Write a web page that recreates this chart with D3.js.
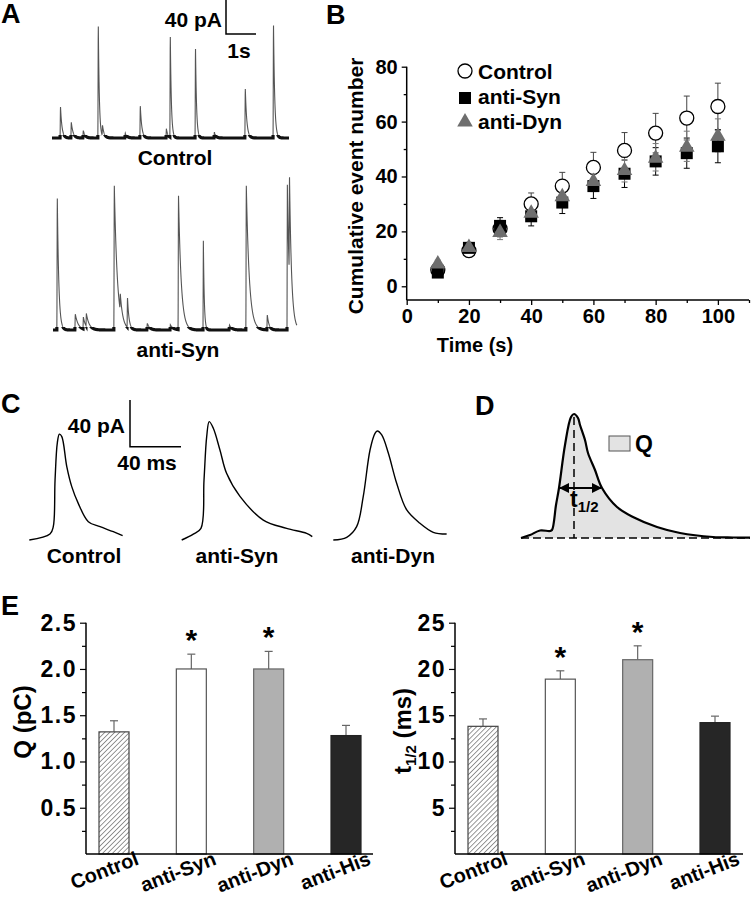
<!DOCTYPE html>
<html><head><meta charset="utf-8">
<script src="https://cdn.jsdelivr.net/npm/d3@7"></script>
<style>body{margin:0;background:#fff}svg{display:block}text{font-family:'Liberation Sans',Arial,Helvetica,sans-serif;font-weight:bold}</style>
</head><body><svg id="fig" width="751" height="900"></svg>
<script>
// ---------- DATA ----------
// Panel A: spontaneous events [time s, amplitude pA, decay tau s]
const aControlEvents = [[0.27,38,0.05],[0.63,19,0.06],[1.03,9,0.06],[1.53,139,0.035],[1.67,13,0.06],[2.43,6,0.06],[2.93,39,0.05],[3.8,11,0.05],[3.93,125,0.035],[4.77,111,0.035],[5.4,7,0.05],[6.43,60,0.05],[7.37,139,0.04]];
const aSynEvents = [[0.13,161,0.05],[0.73,19,0.1],[1.0,14,0.08],[1.1,15,0.1],[2.03,173,0.1],[2.23,20,0.08],[2.47,36,0.05],[3.13,8,0.08],[3.9,6,0.1],[4.17,161,0.09],[5.0,105,0.03],[5.87,6,0.08],[6.43,173,0.1],[7.13,18,0.06],[7.8,171,0.07],[7.87,122,0.07]];
const aControlDuration = 7.9, aSynDuration = 8.13;

// Panel B: cumulative event number
const bTimes = [10,20,30,40,50,60,70,80,90,100];
const bControl = [6,13,21,30,36.5,43.3,49.5,55.8,61.3,65.5];
const bControlErr = [1,1.5,3,4,5,5.5,6.5,7.2,8,8.5];
const bSyn = [5,14,22,25.5,30.5,36.5,41,45.5,48.5,51];
const bSynErr = [1,1.5,3,3.5,4,4.5,5,5,5.5,6];
const bDyn = [8.5,14.5,20,27,33,38.5,42.5,47,51,55];
const bDynErr = [1,1.5,3,3,3.5,4,4.5,5,5.5,6];
const bSeries = ["Control","anti-Syn","anti-Dyn"];

// Panel C: averaged events [ms, pA]
const cControl = [[0,0],[16.2,5.1],[18.8,11.4],[20.2,51.4],[22,83.4],[23.6,90.7],[25.5,88.6],[29.4,62.9],[33.3,45.7],[38.4,31.4],[46.3,15.7],[55.5,11.4],[65.9,7.1],[73.2,3.7]];
const cSyn = [[0,0],[9.1,5.1],[15.1,10],[17.5,51.4],[19.6,88.6],[21.6,101.4],[24.8,95.7],[30,77.1],[35.2,57.1],[45.7,37.4],[64,17.1],[82.3,10],[98,5.7],[102.4,2.9]];
const cDyn = [[0,0],[10.5,2.3],[18.3,11.4],[23.5,37.4],[28.8,77.1],[32.7,91.4],[34.5,93.4],[38,90],[43.2,74.3],[49.7,48.6],[57.6,25.7],[68,14.3],[78.4,6.6],[88.9,5.1]];
const cLabels = ["Control","anti-Syn","anti-Dyn"];

// Panel D: schematic event (arbitrary units)
const dEvent = [[0,0],[9,3],[19,7.5],[29,7],[31,8],[35,33],[38,50],[44,93],[50,121],[53,124],[57,120],[59,113],[64,98],[67,85],[74,68],[81,50],[96,31],[112,21],[136,11],[159,5],[192,1],[212,0.5],[229,0.3]];
const dPeakT = 53, dHalfStart = 38, dHalfEnd = 81, dHalfAmp = 50;

// Panel E
const eCats = ["Control","anti-Syn","anti-Dyn","anti-His"];
const eQ = [1.32,2.0,2.0,1.28];
const eQErr = [0.12,0.16,0.19,0.11];
const eT = [13.8,18.9,21.0,14.2];
const eTErr = [0.8,0.9,1.5,0.7];
const eSig = [false,true,true,false];
const eQTicks = [0.5,1.0,1.5,2.0,2.5];
const eTTicks = [5,10,15,20,25];

// ---------- DRAW ----------
const svg = d3.select("#fig");
function text(x,y,s,size,anchor){return svg.append("text").attr("x",x).attr("y",y).attr("font-size",size).attr("text-anchor",anchor||"start").text(s);}

// panel letters
[["A",1,23],["B",326,24],["C",1,413],["D",475,415],["E",1,615]].forEach(d=>text(d[1],d[2],d[0],27));

// ----- Panel A -----
function traceData(events,dur){
  const pts=[];const rise=0.012;
  for(let t=0;t<=dur+1e-9;t+=0.004){
    let v=0;
    events.forEach(([t0,a,tau])=>{const dt=t-t0; if(dt<0)return; v+= dt<rise? a*dt/rise : a*Math.exp(-(dt-rise)/tau);});
    pts.push([t,v]);
  }
  return pts;
}
function drawTrace(events,dur,x0,base,id){
  const x=d3.scaleLinear().domain([0,1]).range([x0,x0+30]);
  const y=d3.scaleLinear().domain([0,40]).range([base,base-34]);
  const line=d3.line().x(d=>x(d[0])).y(d=>y(d[1]));
  const data=traceData(events,dur);
  svg.append("path").attr("d",line(data)).attr("fill","none").attr("stroke","#555").attr("stroke-width",1.1);
  svg.append("clipPath").attr("id",id).append("rect").attr("x",x0-5).attr("y",base-3).attr("width",300).attr("height",6);
  svg.append("path").attr("d",line(data)).attr("fill","none").attr("stroke","#111").attr("stroke-width",3.2).attr("clip-path",`url(#${id})`);
}
drawTrace(aControlEvents,aControlDuration,52,138,"clipA1");
drawTrace(aSynEvents,aSynDuration,53,330,"clipA2");
text(175,165,"Control",21,"middle");
text(178,357,"anti-Syn",21,"middle");
// scale bar A
svg.append("path").attr("d","M226,0V34H256").attr("fill","none").attr("stroke","#000").attr("stroke-width",1.5);
text(222,27,"40 pA",21,"end");
text(239,58,"1s",21,"middle");

// ----- Panel B -----
const bx=d3.scaleLinear().domain([0,110]).range([406.7,749]);
const by=d3.scaleLinear().domain([-5,80]).range([300,66.7]);
const gB=svg.append("g");
gB.append("g").attr("transform","translate(0,300)").call(d3.axisBottom(bx).tickValues([10,30,50,70,90,110]).tickSize(3).tickFormat(""));
gB.append("g").attr("transform","translate(0,300)").call(d3.axisBottom(bx).tickValues([0,20,40,60,80,100]).tickSize(5).tickPadding(4));
gB.append("g").attr("transform","translate(406.7,0)").call(d3.axisLeft(by).tickValues([10,30,50,70]).tickSize(3).tickFormat(""));
gB.append("g").attr("transform","translate(406.7,0)").call(d3.axisLeft(by).tickValues([0,20,40,60,80]).tickSize(5).tickPadding(4));
gB.selectAll("path.domain").remove();
gB.selectAll(".tick line").attr("stroke-width",1.3);
gB.selectAll(".tick text").attr("font-size",20).attr("font-family","'Liberation Sans',Arial,sans-serif").attr("font-weight","bold").attr("fill","#000");
gB.append("line").attr("x1",406.7).attr("x2",749).attr("y1",300).attr("y2",300).attr("stroke","#000").attr("stroke-width",1.5);
gB.append("line").attr("x1",406.7).attr("x2",406.7).attr("y1",by(80)).attr("y2",300).attr("stroke","#000").attr("stroke-width",1.5);
const bAll=[{v:bControl,e:bControlErr,c:"#444"},{v:bSyn,e:bSynErr,c:"#000"},{v:bDyn,e:bDynErr,c:"#777"}];
bAll.forEach(s=>{
  bTimes.forEach((t,i)=>{
    const cx=bx(t);
    gB.append("line").attr("x1",cx).attr("x2",cx).attr("y1",by(s.v[i]-s.e[i])).attr("y2",by(s.v[i]+s.e[i])).attr("stroke",s.c).attr("stroke-width",1);
    [s.v[i]-s.e[i],s.v[i]+s.e[i]].forEach(v=>gB.append("line").attr("x1",cx-3).attr("x2",cx+3).attr("y1",by(v)).attr("y2",by(v)).attr("stroke",s.c).attr("stroke-width",1));
  });
});
gB.selectAll(null).data(bTimes).enter().append("circle").attr("cx",d=>bx(d)).attr("cy",(d,i)=>by(bControl[i])).attr("r",7).attr("fill","#fff").attr("stroke","#000").attr("stroke-width",1.3);
gB.selectAll(null).data(bTimes).enter().append("rect").attr("x",d=>bx(d)-6).attr("y",(d,i)=>by(bSyn[i])-6).attr("width",12).attr("height",12).attr("fill","#000");
const tri=d3.symbol().type(d3.symbolTriangle).size(105);
gB.selectAll(null).data(bTimes).enter().append("path").attr("d",tri).attr("transform",(d,i)=>`translate(${bx(d)},${by(bDyn[i])+1})`).attr("fill","#6e6e6e");
// legend
gB.append("circle").attr("cx",465).attr("cy",71).attr("r",7).attr("fill","#fff").attr("stroke","#000").attr("stroke-width",1.3);
gB.append("rect").attr("x",459).attr("y",92).attr("width",12).attr("height",12).attr("fill","#000");
gB.append("path").attr("d",tri).attr("transform","translate(465,122)").attr("fill","#6e6e6e");
[[79,bSeries[0]],[104,bSeries[1]],[129,bSeries[2]]].forEach(d=>text(478,d[0],d[1],21));
text(475,352,"Time (s)",20,"middle");
svg.append("text").attr("transform","translate(363,186) rotate(-90)").attr("text-anchor","middle").attr("font-size",21).text("Cumulative event number");

// ----- Panel C -----
const cy=d3.scaleLinear().domain([0,40]).range([540,493.3]);
[[cControl,29.3],[cSyn,181.7],[cDyn,333.3]].forEach(([data,x0])=>{
  const cx=d3.scaleLinear().domain([0,40]).range([x0,x0+51]);
  svg.append("path").attr("d",d3.line().x(d=>cx(d[0])).y(d=>cy(d[1])).curve(d3.curveCatmullRom)(data)).attr("fill","none").attr("stroke","#000").attr("stroke-width",1.4);
});
[[84,cLabels[0]],[237,cLabels[1]],[393,cLabels[2]]].forEach(d=>text(d[0],563,d[1],21,"middle"));
svg.append("path").attr("d","M130,400V446.7H181").attr("fill","none").attr("stroke","#000").attr("stroke-width",1.5);
text(125,433,"40 pA",21,"end");
text(147,470,"40 ms",21,"middle");

// ----- Panel D -----
const dx=d3.scaleLinear().domain([0,229]).range([521,750]);
const dy=d3.scaleLinear().domain([0,123]).range([538,415]);
svg.append("path").attr("d",d3.area().x(d=>dx(d[0])).y0(dy(0)).y1(d=>dy(d[1])).curve(d3.curveCatmullRom)(dEvent)).attr("fill","#e3e3e3");
svg.append("line").attr("x1",dx(0)).attr("x2",dx(229)).attr("y1",dy(0)).attr("y2",dy(0)).attr("stroke","#000").attr("stroke-width",1.6).attr("stroke-dasharray","8,4");
svg.append("path").attr("d",d3.line().x(d=>dx(d[0])).y(d=>dy(d[1])).curve(d3.curveCatmullRom)(dEvent)).attr("fill","none").attr("stroke","#000").attr("stroke-width",2.2);
svg.append("line").attr("x1",dx(dPeakT)).attr("x2",dx(dPeakT)).attr("y1",dy(121)).attr("y2",dy(0)).attr("stroke","#000").attr("stroke-width",1.5).attr("stroke-dasharray","8,5");
const defs=svg.append("defs");
defs.append("marker").attr("id","arr").attr("viewBox","0 0 10 10").attr("refX",9).attr("refY",5).attr("markerWidth",5).attr("markerHeight",5).attr("orient","auto-start-reverse").append("path").attr("d","M0,0L10,5L0,10z").attr("fill","#000");
svg.append("line").attr("x1",dx(dHalfStart)+1).attr("x2",dx(dHalfEnd)-1).attr("y1",dy(dHalfAmp)).attr("y2",dy(dHalfAmp)).attr("stroke","#000").attr("stroke-width",2).attr("marker-start","url(#arr)").attr("marker-end","url(#arr)");
const tl=svg.append("text").attr("x",570).attr("y",507).attr("font-size",23);
tl.append("tspan").text("t");
tl.append("tspan").attr("font-size",15).attr("dy",5).text("1/2");
svg.append("rect").attr("x",609).attr("y",436).attr("width",21).attr("height",15).attr("fill","#e3e3e3").attr("stroke","#555").attr("stroke-width",1);
text(635,452,"Q",23);

// ----- Panel E -----
const hatch=defs.append("pattern").attr("id","hatch").attr("patternUnits","userSpaceOnUse").attr("width",3.5).attr("height",3.5).attr("patternTransform","rotate(45)");
hatch.append("rect").attr("width",3.5).attr("height",3.5).attr("fill","#fff");
hatch.append("line").attr("x1",0).attr("x2",0).attr("y1",0).attr("y2",3.5).attr("stroke","#444").attr("stroke-width",1.1);
const eFill=["url(#hatch)","#fff","#b0b0b0","#262626"];
const eStroke=["#444","#555","#666","#222"];
function barPanel(x0,x1,c0,c1,yMax,vals,errs,ticks,minors,label,sub){
  const x=d3.scalePoint().domain(eCats).range([c0,c1]);
  const y=d3.scaleLinear().domain([0,yMax]).range([854,622.7]);
  const g=svg.append("g");
  g.append("g").attr("transform",`translate(${x0},0)`).call(d3.axisLeft(y).tickValues(minors).tickSize(4).tickFormat(""));
  g.append("g").attr("transform",`translate(${x0},0)`).call(d3.axisLeft(y).tickValues(ticks).tickSize(6).tickPadding(3).tickFormat(d=>yMax<5?d3.format(".1f")(d):d));
  g.selectAll("path.domain").remove();
  g.selectAll(".tick line").attr("stroke-width",1.2);
  g.selectAll(".tick text").attr("font-size",23).attr("font-family","'Liberation Sans',Arial,sans-serif").attr("font-weight","bold").attr("fill","#000").attr("letter-spacing","1.5");
  g.append("line").attr("x1",x0).attr("x2",x0).attr("y1",622.7).attr("y2",854).attr("stroke","#000").attr("stroke-width",1.5);
  eCats.forEach((c,i)=>{
    const cx=x(c);
    g.append("line").attr("x1",cx).attr("x2",cx).attr("y1",y(vals[i])).attr("y2",y(vals[i]+errs[i])).attr("stroke","#666").attr("stroke-width",1.2);
    g.append("line").attr("x1",cx-4).attr("x2",cx+4).attr("y1",y(vals[i]+errs[i])).attr("y2",y(vals[i]+errs[i])).attr("stroke","#666").attr("stroke-width",1.2);
    g.append("rect").attr("x",cx-15).attr("y",y(vals[i])).attr("width",30).attr("height",854-y(vals[i])).attr("fill",eFill[i]).attr("stroke",eStroke[i]).attr("stroke-width",1.2);
    if(eSig[i]) g.append("text").attr("x",cx).attr("y",y(vals[i]+errs[i])-4).attr("text-anchor","middle").attr("font-size",30).attr("font-weight","normal").text("*");
    g.append("text").attr("transform",`translate(${cx+26},864) rotate(-21)`).attr("text-anchor","end").attr("font-size",20).text(c);
  });
  g.append("line").attr("x1",x0).attr("x2",x1).attr("y1",854).attr("y2",854).attr("stroke","#000").attr("stroke-width",1.5);
  const lab=svg.append("text").attr("transform",`translate(${label.x},${label.y}) rotate(-90)`).attr("text-anchor","middle").attr("font-size",24);
  lab.append("tspan").text(label.t);
  if(sub){lab.append("tspan").attr("font-size",15).attr("dy",5).text(sub);lab.append("tspan").attr("dy",-5).text(label.t2);}
}
barPanel(86,373,114,346,2.5,eQ,eQErr,eQTicks,[0.25,0.75,1.25,1.75,2.25],{x:31,y:722,t:"Q (pC)"},null);
barPanel(455,743,483,715,25,eT,eTErr,eTTicks,[2.5,7.5,12.5,17.5,22.5],{x:411,y:731,t:"t",t2:" (ms)"},"1/2");
</script></body></html>
